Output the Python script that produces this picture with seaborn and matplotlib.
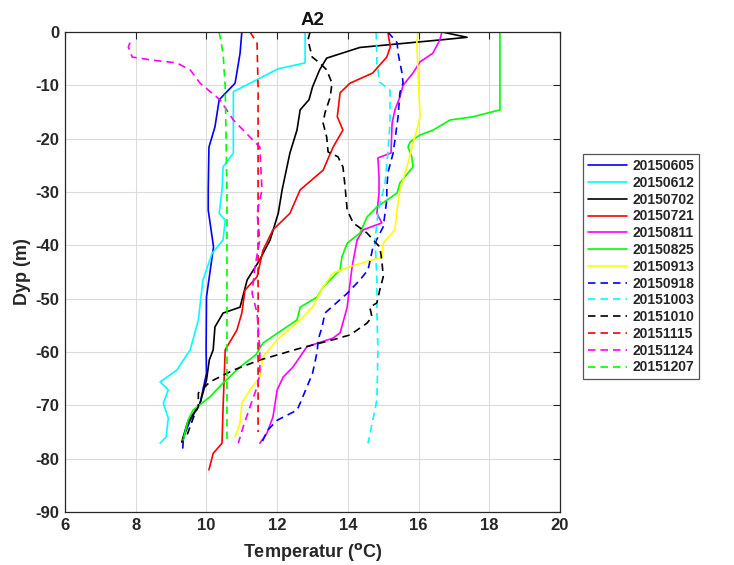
import matplotlib
matplotlib.use("Agg")
import matplotlib.pyplot as plt
import seaborn as sns
import numpy as np
from matplotlib.lines import Line2D

# ---------------- data ----------------
labels = ["20150605", "20150612", "20150702", "20150721", "20150811", "20150825",
          "20150913", "20150918", "20151003", "20151010", "20151115", "20151124", "20151207"]

t_0605 = [11.0, 10.95, 10.81, 10.36, 10.24, 10.07, 10.05, 10.05, 10.2, 10.0, 9.99, 10.0, 9.82, 9.54, 9.35, 9.33]
d_0605 = [0, -4, -9.6, -12.7, -17.8, -21.6, -29.6, -33.4, -40.3, -49.7, -59.6, -64, -69.6, -72.8, -76, -78]

t_0612 = [12.79, 12.79, 12.03, 10.76, 10.76, 10.47, 10.44, 10.36, 10.53, 10.47, 10.16, 9.9, 9.77, 9.54,
          9.16, 8.69, 8.92, 8.78, 8.92, 8.86, 8.69]
d_0612 = [0, -5.8, -6.9, -11.2, -22.7, -25.3, -29.6, -34, -35.3, -39, -41.5, -46.5, -54, -59.6,
          -63.4, -65.6, -67.1, -69.6, -72.4, -75.9, -77.1]

t_0702 = [16.66, 17.37, 16.6, 14.34, 13.4, 13.2, 13.0, 12.9, 12.65, 12.56, 12.36, 12.14, 12.03, 11.8,
          11.5, 11.15, 10.95, 10.47, 10.24, 10.19, 10.08, 10.0, 9.82, 9.46, 9.3]
d_0702 = [0, -1.0, -1.5, -2.9, -4.9, -7.1, -10.3, -12.7, -14.6, -18.4, -22.7, -29.6, -34, -39,
          -42.8, -46.5, -51.6, -52.7, -55.3, -59.6, -61.5, -65.3, -69.6, -73.3, -76.9]

t_0721 = [15.13, 15.2, 15.1, 14.7, 14.06, 13.78, 13.7, 13.86, 13.58, 13.3, 12.65, 12.36, 11.88, 11.6,
          11.43, 11.09, 11.0, 10.86, 10.61, 10.53, 10.47, 10.44, 10.19, 10.07]
d_0721 = [0, -2.8, -4.7, -7.7, -9.6, -11.4, -15.9, -18.4, -21.6, -25.9, -29.6, -34, -37.1, -40.9,
          -45.9, -48.4, -52.7, -55.9, -58.7, -59.6, -70.3, -77.1, -79, -82.1]

t_0811 = [16.66, 16.6, 16.4, 16.04, 15.84, 15.56, 15.47, 15.33, 15.25, 15.22, 14.85, 14.88, 14.88, 14.82,
          14.96, 14.43, 14.26, 14.12, 14.06, 13.98, 13.78, 13.58, 12.84, 12.45, 12.17, 12.0, 11.88, 11.71, 11.51]
d_0811 = [0, -1.5, -4, -5.6, -7.7, -10, -12.2, -14.6, -17.1, -22.7, -23.6, -27.2, -30.2, -34,
          -35.8, -37.1, -39, -44, -47.1, -51.6, -56.4, -57.4, -59, -62.8, -64.7, -67.1, -72.2, -75.2, -77.1]

t_0825 = [18.3, 18.3, 17.54, 16.89, 16.41, 16.04, 15.76, 15.7, 15.81, 15.84, 15.47, 15.39, 14.82, 14.54,
          14.34, 13.98, 13.83, 13.78, 13.3, 13.13, 12.65, 12.56, 11.6, 11.4, 10.95, 10.47, 10.1, 9.62, 9.48, 9.34]
d_0825 = [0, -14.6, -15.9, -16.5, -18.4, -19.3, -20.6, -21.6, -23.4, -25.3, -28.3, -30.2, -32.8, -34.7,
          -37.7, -39.6, -42.2, -44.6, -47.8, -49.7, -51.6, -54, -58.3, -60.5, -62.8, -65.8, -68.4, -70.9, -72.8, -76.5]

t_0913 = [15.98, 15.95, 16.0, 16.04, 15.95, 15.81, 15.67, 15.47, 15.39, 15.33, 15.0, 14.96, 14.06, 13.58,
          13.3, 13.0, 12.65, 12.0, 11.6, 11.51, 11.23, 11.0, 10.95, 10.81]
d_0913 = [0, -2, -10, -15.9, -18.4, -21.6, -25.3, -29.6, -33.4, -37.1, -39.6, -42.2, -44, -45.2,
          -47.8, -51.6, -54, -57.7, -60.9, -64.7, -67.1, -69.6, -73.3, -75.9]

t_0918 = [15.13, 15.39, 15.42, 15.53, 15.56, 15.47, 15.42, 15.28, 15.13, 15.1, 15.1, 15.0, 14.71, 14.57,
          14.34, 13.98, 13.35, 13.27, 13.16, 13.13, 13.0, 12.65, 12.56, 12.0, 11.74, 11.57]
d_0918 = [0, -2, -4, -7.7, -9.6, -11.4, -15.9, -22.7, -26.4, -29.6, -31.5, -36.5, -40.3, -44.6,
          -46.5, -49, -52.7, -55.3, -57.7, -60, -64, -69.6, -70.9, -72.8, -74.6, -76.9]

t_1003 = [14.8, 14.82, 14.9, 15.19, 15.19, 15.13, 15.05, 14.85, 14.77, 14.82, 14.82, 14.85, 14.82, 14.57]
d_1003 = [0, -5.8, -9.4, -10.9, -17.1, -22.7, -28.3, -34, -39, -46.5, -52.7, -59.6, -69, -77.1]

t_1010 = [12.93, 12.87, 12.99, 13.2, 13.4, 13.55, 13.5, 13.35, 13.3, 13.4, 13.44, 13.72, 13.86, 13.92,
          13.98, 14.15, 14.54, 14.9, 14.96, 15.0, 14.9, 14.82, 14.62, 14.68, 14.54, 14.06, 13.58, 12.65,
          11.51, 10.76, 10.1, 9.77, 9.77, 9.68, 9.45, 9.35]
d_1010 = [0, -1.5, -4.7, -5.8, -7.1, -9.6, -12.2, -15.2, -17.1, -19.7, -22.5, -23.4, -25.3, -29,
          -33.4, -35.8, -37.7, -40.3, -42.8, -45.9, -48.4, -50.8, -51.6, -53.4, -54.6, -56.8, -57.7, -59.3,
          -61.5, -63.4, -65.6, -67.7, -70.3, -71.4, -75.6, -76.2]

t_1115 = [11.23, 11.43, 11.46, 11.46]
d_1115 = [0, -2, -10.3, -75]

t_1124 = [7.84, 7.79, 7.9, 8.49, 9.16, 9.54, 9.82, 10.38, 10.76, 11.23, 11.51, 11.57, 11.43, 11.51,
          11.37, 11.29, 11.43, 11.51, 11.51, 11.43, 11.23, 11.04, 10.9]
d_1124 = [-2, -2.8, -4.7, -5.3, -5.8, -7.1, -9.6, -12.7, -16.5, -19.7, -21.6, -29.6, -34, -39,
          -44, -49, -52.7, -59.6, -64, -66.6, -70.3, -74, -77.1]

t_1207 = [10.36, 10.47, 10.53, 10.58, 10.58]
d_1207 = [0, -4, -10.3, -30, -77.1]

temps = [t_0605, t_0612, t_0702, t_0721, t_0811, t_0825, t_0913,
         t_0918, t_1003, t_1010, t_1115, t_1124, t_1207]
depths = [d_0605, d_0612, d_0702, d_0721, d_0811, d_0825, d_0913,
          d_0918, d_1003, d_1010, d_1115, d_1124, d_1207]

colors = ["#0000ff", "#00ffff", "#000000", "#ff0000", "#ff00ff", "#00ff00", "#ffff00",
          "#0000ff", "#00ffff", "#000000", "#ff0000", "#ff00ff", "#00ff00"]
styles = ["-"] * 7 + ["--"] * 6

x_ticks = [6, 8, 10, 12, 14, 16, 18, 20]
y_ticks = [-90, -80, -70, -60, -50, -40, -30, -20, -10, 0]

DASH = (4.5, 3.0)

# ---------------- style ----------------
sns.set_style("white")
plt.rcParams["font.family"] = ["Liberation Sans", "DejaVu Sans"]
plt.rcParams["font.weight"] = "bold"
plt.rcParams["axes.unicode_minus"] = False

fig = plt.figure(figsize=(7.34, 5.65), dpi=100)
ax = fig.add_axes([0.0886, 0.0938, 0.6744, 0.8496])

for t, d, c, ls in zip(temps, depths, colors, styles):
    sns.lineplot(x=t, y=d, sort=False, estimator=None, color=c, linestyle=ls,
                 linewidth=1.2, ax=ax, legend=False)
    if ls == "--":
        ax.lines[-1].set_dashes(DASH)

ax.set_xlim(6, 20)
ax.set_ylim(-90, 0)
ax.set_xticks(x_ticks)
ax.set_yticks(y_ticks)
ax.grid(True, color="#dcdcdc", linewidth=0.8)
ax.set_axisbelow(True)
for s in ax.spines.values():
    s.set_visible(True)
    s.set_color("#262626")
    s.set_linewidth(0.9)
ax.tick_params(direction="in", top=True, right=True, length=5, width=0.8,
               labelsize=12, colors="#262626", pad=4)
for lbl in ax.get_xticklabels() + ax.get_yticklabels():
    lbl.set_fontweight("bold")

ax.set_xlabel("Temperatur ($\\mathbf{^{o}}$C)", fontsize=13, fontweight="bold", color="#262626", labelpad=6)
ax.set_ylabel("Dyp (m)", fontsize=13, fontweight="bold", color="#262626", labelpad=3)
ax.set_title("A2", fontsize=13.5, fontweight="bold", color="#111111", pad=5)

handles = []
for c, ls in zip(colors, styles):
    h = Line2D([0], [0], color=c, linestyle=ls, linewidth=1.2)
    if ls == "--":
        h.set_dashes(DASH)
    handles.append(h)

leg = fig.legend(handles, labels, loc="upper left", bbox_to_anchor=(0.794, 0.727),
                 frameon=True, fancybox=False, edgecolor="#555555", framealpha=1,
                 prop={"family": "Liberation Sans", "weight": "bold", "size": 10},
                 handlelength=2.8, handletextpad=0.4, labelspacing=0.2,
                 borderpad=0.35, borderaxespad=0)
leg.get_frame().set_linewidth(0.9)

fig.savefig("out.png", dpi=100)
